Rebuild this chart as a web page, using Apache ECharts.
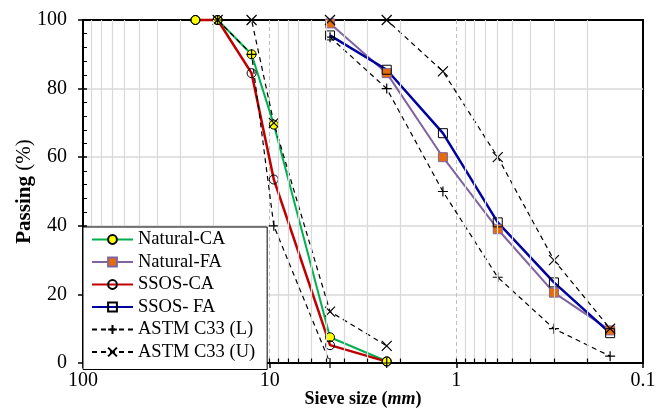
<!DOCTYPE html>
<html>
<head>
<meta charset="utf-8">
<script src="https://cdn.jsdelivr.net/npm/echarts@6/dist/echarts.min.js"></script>
<style>
  html, body { margin: 0; padding: 0; background: #fff; }
  #chart { width: 665px; height: 409px; }
</style>
</head>
<body>
<div id="chart"></div>
<script>
// sieve sizes (mm)
var sizesCA = [25, 19, 12.5, 9.5, 4.75, 2.36];
var sizesFA = [4.75, 2.36, 1.18, 0.6, 0.3, 0.15];
var astmSizesCA = [19, 12.5, 9.5, 4.75, 2.36];
var astmSizesFA = [4.75, 2.36, 1.18, 0.6, 0.3, 0.15];

// passing (%)
var naturalCA = [100, 100, 90, 69.5, 7.5, 0.5];
var ssosCA = [100, 100, 84.5, 53.5, 5.2, 0.4];
var naturalFA = [99, 84.5, 60, 39, 20.5, 9.5];
var ssosFA = [95.5, 85.5, 67, 41, 23.5, 8.7];
var astmLowerCA = [100, 90, 40, 0, 0];
var astmUpperCA = [100, 100, 70, 15, 5];
var astmLowerFA = [95, 80, 50, 25, 10, 2];
var astmUpperFA = [100, 100, 85, 60, 30, 10];

// log grid helpers
var minorGridX = [90, 80, 70, 60, 50, 40, 30, 20, 9, 8, 7, 6, 5, 4, 3, 2, 0.9, 0.8, 0.7, 0.6, 0.5, 0.4, 0.3, 0.2];
var innerTicksX = minorGridX.concat([10, 1]);

var FONT = "'Liberation Serif', 'Times New Roman', serif";
var PLUS = 'path://M0,5L10,5M5,0L5,10';
var CROSS = 'path://M0,0L10,10M10,0L0,10';

function pairs(xs, ys) {
  return xs.map(function (x, i) { return [x, ys[i]]; });
}

var myChart = echarts.init(document.getElementById('chart'));

var gridLines = [];
minorGridX.forEach(function (v) {
  gridLines.push([{ coord: [v, 0] }, { coord: [v, 100] }]);
});
var tickLines = [];
innerTicksX.forEach(function (v) {
  tickLines.push([{ coord: [v, 0] }, { coord: [v, 1.3] }]);
});

function mainSeries(name, xs, ys, lineColor, width, symbol, fill, border) {
  return {
    name: name,
    type: 'line',
    data: pairs(xs, ys),
    symbol: symbol,
    symbolSize: 9,
    clip: false,
    lineStyle: { color: lineColor, width: width },
    itemStyle: { color: fill, borderColor: border, borderWidth: 1 },
    emphasis: { disabled: true },
    z: 3
  };
}

function astmSeries(name, xs, ys, symbol) {
  return {
    name: name,
    type: 'line',
    data: pairs(xs, ys),
    symbol: symbol,
    symbolSize: 10,
    clip: false,
    lineStyle: { color: '#000', width: 1.2, type: [5, 4] },
    itemStyle: { color: 'transparent', borderColor: '#000', borderWidth: 1.2 },
    emphasis: { disabled: true },
    z: 3
  };
}

var options = {
  animation: false,
  backgroundColor: '#fff',
  textStyle: { fontFamily: FONT },
  grid: {
    left: 83, right: 22, top: 20, bottom: 46,
    containLabel: false,
    outerBoundsMode: 'none',
    show: true, borderColor: '#000', borderWidth: 2, backgroundColor: '#fff'
  },
  legend: {
    data: ['Natural-CA', 'Natural-FA', 'SSOS-CA', 'SSOS- FA', 'ASTM C33 (L)', 'ASTM C33 (U)'],
    orient: 'vertical',
    left: 83,
    top: 227,
    backgroundColor: '#fff',
    borderColor: '#000',
    borderWidth: 1,
    padding: [3, 12, 8, 8],
    itemWidth: 41,
    itemHeight: 11,
    itemGap: 3.5,
    textStyle: { fontFamily: FONT, fontSize: 18.5, color: '#000' },
    z: 10
  },
  xAxis: {
    type: 'log',
    logBase: 10,
    min: 0.1,
    max: 100,
    inverse: true,
    name: '{b|Sieve size (}{i|mm}{b|)}',
    nameLocation: 'middle',
    nameGap: 27,
    nameMoveOverlap: false,
    nameTextStyle: {
      rich: {
        b: { fontFamily: FONT, fontSize: 18, fontWeight: 'bold', color: '#000' },
        i: { fontFamily: FONT, fontSize: 18, fontWeight: 'bold', fontStyle: 'italic', color: '#000' }
      }
    },
    axisLine: { lineStyle: { color: '#000', width: 2 } },
    axisTick: { show: true, length: 5, lineStyle: { color: '#000', width: 1.5 } },
    axisLabel: { fontFamily: FONT, fontSize: 20, color: '#000', margin: 8 },
    splitLine: {
      show: true, showMinLine: false, showMaxLine: false,
      lineStyle: { color: '#bfbfbf', width: 1, type: [4, 3] }
    }
  },
  yAxis: [{
    type: 'value',
    min: 0,
    max: 100,
    interval: 20,
    name: '{b|Passing }{r|(%)}',
    nameLocation: 'middle',
    nameRotate: 90,
    nameGap: 48,
    nameMoveOverlap: false,
    nameTextStyle: {
      rich: {
        b: { fontFamily: FONT, fontSize: 21, fontWeight: 'bold', color: '#000' },
        r: { fontFamily: FONT, fontSize: 21, color: '#000' }
      }
    },
    axisLine: { show: true, lineStyle: { color: '#000', width: 2 } },
    axisTick: { show: true, length: 5, lineStyle: { color: '#000', width: 1.5 } },
    axisLabel: { fontFamily: FONT, fontSize: 20, color: '#000', margin: 16 },
    splitLine: { show: true, showMaxLine: false, lineStyle: { color: '#d9d9d9', width: 1.5 } }
  }, {
    type: 'value',
    position: 'left',
    min: 0,
    max: 100,
    interval: 20,
    axisLine: { show: false },
    axisLabel: { show: false },
    axisTick: { show: true, inside: true, length: 4, lineStyle: { color: '#000', width: 1.5 } },
    minorTick: { show: true, splitNumber: 5, length: 4, lineStyle: { color: '#000', width: 1 } },
    splitLine: { show: false }
  }],
  series: [
    {
      name: 'grid',
      type: 'line',
      data: [],
      silent: true,
      z: 1,
      markLine: {
        silent: true,
        symbol: 'none',
        label: { show: false },
        animation: false,
        lineStyle: { color: '#d9d9d9', width: 1.2, type: 'solid' },
        data: gridLines
      }
    },
    {
      name: 'ticks',
      type: 'line',
      data: [],
      silent: true,
      z: 4,
      markLine: {
        silent: true,
        symbol: 'none',
        label: { show: false },
        animation: false,
        lineStyle: { color: '#000', width: 1.2, type: 'solid' },
        data: tickLines
      }
    },
    mainSeries('Natural-CA', sizesCA, naturalCA, '#00b050', 2, 'circle', '#ffff00', '#000'),
    mainSeries('Natural-FA', sizesFA, naturalFA, '#8064a2', 2, 'rect', '#e46c0a', '#8064a2'),
    mainSeries('SSOS-CA', sizesCA, ssosCA, '#c00000', 2.5, 'circle', 'transparent', '#000'),
    mainSeries('SSOS- FA', sizesFA, ssosFA, '#0000a0', 2.5, 'rect', 'transparent', '#000'),
    astmSeries('ASTM C33 (L)', astmSizesCA, astmLowerCA, PLUS),
    astmSeries('ASTM C33 (L)', astmSizesFA, astmLowerFA, PLUS),
    astmSeries('ASTM C33 (U)', astmSizesCA, astmUpperCA, CROSS),
    astmSeries('ASTM C33 (U)', astmSizesFA, astmUpperFA, CROSS)
  ]
};

myChart.setOption(options);
window.addEventListener('resize', function () { myChart.resize(); });
</script>
</body>
</html>
